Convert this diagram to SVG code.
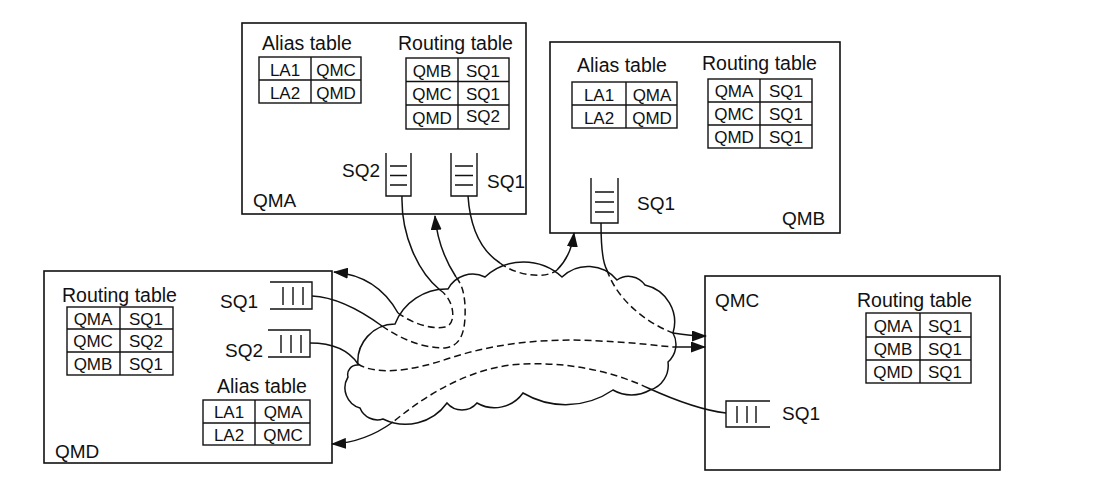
<svg xmlns="http://www.w3.org/2000/svg" width="1114" height="499" viewBox="0 0 1114 499">
<defs>
<style>
.box{fill:none;stroke:#111;stroke-width:1.6}
.tb{fill:none;stroke:#111;stroke-width:1.4}
.q{fill:none;stroke:#111;stroke-width:1.4}
.h{font-family:"Liberation Sans",Arial,sans-serif;font-size:19.5px;fill:#111}
.lb{font-family:"Liberation Sans",Arial,sans-serif;font-size:19px;fill:#111}
.c{font-family:"Liberation Sans",Arial,sans-serif;font-size:17px;fill:#111;text-anchor:middle}
.s{fill:none;stroke:#111;stroke-width:1.5}
.d{fill:none;stroke:#111;stroke-width:1.5;stroke-dasharray:7 4}
.a{marker-end:url(#arr)}
</style>
<marker id="arr" markerUnits="userSpaceOnUse" markerWidth="15" markerHeight="11" refX="14" refY="5.5" orient="auto">
<path d="M0,0 L15,5.5 L0,11 z" fill="#111"/>
</marker>
</defs>
<rect width="1114" height="499" fill="#fff"/>

<g id="cloud">
<path class="s" d="M358,365 A37.5,37.5 0 0 1 395,324 A55,55 0 0 1 448,289 A28,28 0 0 1 485,277 A57,57 0 0 1 562,277 A37.5,37.5 0 0 1 617,280 A20,20 0 0 1 645,285 A38,38 0 0 1 673,333 A23.5,23.5 0 0 1 668,362 A25.7,25.7 0 0 1 650,390 A36.7,36.7 0 0 1 613,390 A84,84 0 0 1 523,393 A35,35 0 0 1 477,403 A19.6,19.6 0 0 1 447,403 A51,51 0 0 1 383,419 A18.8,18.8 0 0 1 360,408 A21,21 0 0 1 348,377 A9.6,9.6 0 0 1 358,365 Z"/>
</g>

<g id="QMA">
<rect class="box" x="242" y="23" width="284" height="191"/>
<text class="h" x="262" y="50">Alias table</text>
<g class="tb"><rect x="259" y="57" width="102" height="46"/><line x1="311" y1="57" x2="311" y2="103"/><line x1="259" y1="80" x2="361" y2="80"/></g>
<text class="c" x="285" y="76">LA1</text><text class="c" x="336" y="76">QMC</text>
<text class="c" x="285" y="99">LA2</text><text class="c" x="336" y="99">QMD</text>
<text class="h" x="398" y="50">Routing table</text>
<g class="tb"><rect x="406" y="58" width="103" height="71"/><line x1="458" y1="58" x2="458" y2="129"/><line x1="406" y1="81.5" x2="509" y2="81.5"/><line x1="406" y1="105" x2="509" y2="105"/></g>
<text class="c" x="432" y="77">QMB</text><text class="c" x="483" y="77">SQ1</text>
<text class="c" x="432" y="100">QMC</text><text class="c" x="483" y="100">SQ1</text>
<text class="c" x="432" y="124">QMD</text><text class="c" x="483" y="122">SQ2</text>
<path class="q" d="M386,153 V196 H411 V153 M390,166 H407 M390,175.5 H407 M390,185 H407"/>
<text class="lb" x="342" y="177">SQ2</text>
<path class="q" d="M451,153 V196 H477 V153 M455,166 H473 M455,175.5 H473 M455,185 H473"/>
<text class="lb" x="487" y="188">SQ1</text>
<text class="lb" x="253" y="207">QMA</text>
</g>

<g id="QMB">
<rect class="box" x="550" y="42" width="290" height="191"/>
<text class="h" x="577" y="72">Alias table</text>
<g class="tb"><rect x="572" y="82" width="105" height="46"/><line x1="626" y1="82" x2="626" y2="128"/><line x1="572" y1="105" x2="677" y2="105"/></g>
<text class="c" x="599" y="101">LA1</text><text class="c" x="652" y="101">QMA</text>
<text class="c" x="599" y="124">LA2</text><text class="c" x="652" y="124">QMD</text>
<text class="h" x="702" y="70">Routing table</text>
<g class="tb"><rect x="708" y="79" width="104" height="69"/><line x1="760" y1="79" x2="760" y2="148"/><line x1="708" y1="102" x2="812" y2="102"/><line x1="708" y1="125" x2="812" y2="125"/></g>
<text class="c" x="734" y="97">QMA</text><text class="c" x="786" y="97">SQ1</text>
<text class="c" x="734" y="120">QMC</text><text class="c" x="786" y="120">SQ1</text>
<text class="c" x="734" y="143">QMD</text><text class="c" x="786" y="143">SQ1</text>
<path class="q" d="M591,178 V223 H618 V178 M595,192 H614 M595,202 H614 M595,212 H614"/>
<text class="lb" x="637" y="210">SQ1</text>
<text class="lb" x="782" y="225">QMB</text>
</g>

<g id="QMD">
<rect class="box" x="44" y="271" width="288" height="192"/>
<text class="h" x="62" y="302">Routing table</text>
<g class="tb"><rect x="67" y="307" width="106" height="68"/><line x1="120" y1="307" x2="120" y2="375"/><line x1="67" y1="329" x2="173" y2="329"/><line x1="67" y1="352" x2="173" y2="352"/></g>
<text class="c" x="93" y="325">QMA</text><text class="c" x="146" y="325">SQ1</text>
<text class="c" x="93" y="347">QMC</text><text class="c" x="146" y="347">SQ2</text>
<text class="c" x="93" y="370">QMB</text><text class="c" x="146" y="370">SQ1</text>
<path class="q" d="M270,282 H312 V309 H270 M283,287 V305 M293,287 V305 M303,287 V305"/>
<text class="lb" x="220" y="308">SQ1</text>
<path class="q" d="M268,330 H310 V357 H268 M281,335 V353 M291,335 V353 M301,335 V353"/>
<text class="lb" x="225" y="357">SQ2</text>
<text class="h" x="217" y="393">Alias table</text>
<g class="tb"><rect x="203" y="400" width="107" height="45"/><line x1="255" y1="400" x2="255" y2="445"/><line x1="203" y1="423" x2="310" y2="423"/></g>
<text class="c" x="229" y="418">LA1</text><text class="c" x="283" y="418">QMA</text>
<text class="c" x="229" y="441">LA2</text><text class="c" x="283" y="441">QMC</text>
<text class="lb" x="55" y="458">QMD</text>
</g>

<g id="QMC">
<rect class="box" x="705" y="276" width="295" height="194"/>
<text class="lb" x="715" y="307">QMC</text>
<text class="h" x="857" y="307">Routing table</text>
<g class="tb"><rect x="866" y="313" width="105" height="70"/><line x1="920" y1="313" x2="920" y2="383"/><line x1="866" y1="337" x2="971" y2="337"/><line x1="866" y1="360" x2="971" y2="360"/></g>
<text class="c" x="893" y="332">QMA</text><text class="c" x="945" y="332">SQ1</text>
<text class="c" x="893" y="355">QMB</text><text class="c" x="945" y="355">SQ1</text>
<text class="c" x="893" y="378">QMD</text><text class="c" x="945" y="378">SQ1</text>
<path class="q" d="M770,401 H726 V427 H770 M737,406 V423 M747,406 V423 M756,406 V423"/>
<text class="lb" x="782" y="420">SQ1</text>
</g>

<g id="connectors">
<!-- A: QMA SQ2 to QMD -->
<path class="s" d="M402,196 C401,235 418,272 440,290"/>
<path class="d" d="M440,290 C455,300 457,325 445,327 C430,330 410,322 398,313"/>
<path class="s a" d="M398,313 C388,295 370,275 334,272"/>
<!-- B: QMD SQ1 to QMA -->
<path class="s" d="M312,296 C335,297 360,310 382,326"/>
<path class="d" d="M382,326 C400,338 420,348 445,348 C462,346 466,330 465,305 C464,292 462,285 456,277"/>
<path class="s a" d="M456,277 C445,260 437,240 435,216"/>
<!-- C: QMA SQ1 to QMB -->
<path class="s" d="M468,196 C470,225 480,250 500,263"/>
<path class="d" d="M500,263 C515,275 545,280 557,270"/>
<path class="s a" d="M557,270 C565,262 572,250 574,233"/>
<!-- D: QMB SQ1 to QMC -->
<path class="s" d="M601,223 C601,245 602,262 607,270"/>
<path class="d" d="M607,270 C615,295 640,320 673,333"/>
<path class="s a" d="M673,333 C685,335 695,336 706,336"/>
<!-- E: QMD SQ2 to QMC -->
<path class="s" d="M310,343 C335,343 350,352 358,364"/>
<path class="d" d="M358,364 C375,375 410,372 450,358 C500,342 550,338 600,341 C640,343 660,346 673,347"/>
<path class="s a" d="M673,347 L705,347"/>
<!-- F: QMC SQ1 to QMD -->
<path class="s" d="M726,413 C700,410 670,398 648,388"/>
<path class="d" d="M648,388 C610,370 560,360 510,365 C460,372 420,400 393,422"/>
<path class="s a" d="M393,422 C375,435 355,443 332,444"/>
</g>
</svg>
